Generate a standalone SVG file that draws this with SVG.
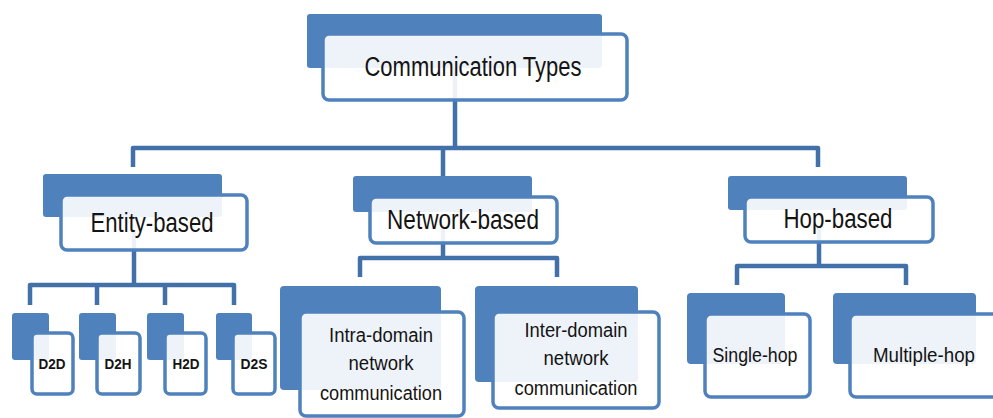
<svg xmlns="http://www.w3.org/2000/svg" width="993" height="418" viewBox="0 0 993 418">
<style>
.bg{fill:#4f81bd}
.box{fill:#ffffff;fill-opacity:0.9;stroke:#4f81bd;stroke-width:3.5}
.conn{fill:none;stroke:#4270a8;stroke-width:4.5;stroke-linejoin:round}
text{font-family:"Liberation Sans Narrow","Liberation Sans",Arial,sans-serif;fill:#141414;text-anchor:middle}
.h{font-size:27px}
.m{font-size:20px}
.s{font-size:15px;font-weight:bold}
</style>
<rect width="993" height="418" fill="#ffffff"/>
<g id="connectors">
<path class="conn" d="M455 60 V148 M133 167 V148 H818 V167 M443 148 V176"/>
<path class="conn" d="M134 230 V285 M30 305 V285 H234 V305 M97 285 V305 M165 285 V305"/>
<path class="conn" d="M443 225 V258 M360 277 V258 H557 V277"/>
<path class="conn" d="M819 225 V266 M737 285 V266 H906 V285"/>
</g>
<g id="n-root">
<rect class="bg" x="307" y="14" width="295" height="54" rx="3"/>
<rect class="box" x="323" y="34" width="304" height="66" rx="6"/>
<text class="h" x="473" y="76" textLength="217" lengthAdjust="spacingAndGlyphs">Communication Types</text>
</g>
<g id="n-entity">
<rect class="bg" x="43" y="174" width="179" height="43" rx="3"/>
<rect class="box" x="61" y="195" width="186" height="55" rx="6"/>
<text class="h" x="152" y="232" textLength="123" lengthAdjust="spacingAndGlyphs">Entity-based</text>
</g>
<g id="n-network">
<rect class="bg" x="353" y="176" width="179" height="36" rx="3"/>
<rect class="box" x="370" y="197" width="187" height="46" rx="6"/>
<text class="h" x="463" y="229" textLength="152" lengthAdjust="spacingAndGlyphs">Network-based</text>
</g>
<g id="n-hop">
<rect class="bg" x="728" y="176" width="179" height="34" rx="3"/>
<rect class="box" x="745" y="197" width="188" height="45" rx="6"/>
<text class="h" x="838" y="228" textLength="109" lengthAdjust="spacingAndGlyphs">Hop-based</text>
</g>
<g id="n-d2d">
<rect class="bg" x="12" y="313" width="37" height="47" rx="3"/>
<rect class="box" x="32" y="333" width="41" height="61" rx="5"/>
<text class="s" x="52" y="369" textLength="27" lengthAdjust="spacingAndGlyphs">D2D</text>
</g>
<g id="n-d2h">
<rect class="bg" x="79" y="313" width="37" height="47" rx="3"/>
<rect class="box" x="97" y="333" width="43" height="61" rx="5"/>
<text class="s" x="118" y="369" textLength="27" lengthAdjust="spacingAndGlyphs">D2H</text>
</g>
<g id="n-h2d">
<rect class="bg" x="147" y="313" width="37" height="47" rx="3"/>
<rect class="box" x="165" y="333" width="41" height="61" rx="5"/>
<text class="s" x="186" y="369" textLength="27" lengthAdjust="spacingAndGlyphs">H2D</text>
</g>
<g id="n-d2s">
<rect class="bg" x="216" y="313" width="36" height="47" rx="3"/>
<rect class="box" x="233" y="333" width="42" height="61" rx="5"/>
<text class="s" x="254" y="369" textLength="27" lengthAdjust="spacingAndGlyphs">D2S</text>
</g>
<g id="n-intra">
<rect class="bg" x="280" y="286" width="161" height="104" rx="4"/>
<rect class="box" x="300" y="312" width="164" height="104" rx="6"/>
<text class="m" x="381" y="342" textLength="104" lengthAdjust="spacingAndGlyphs">Intra-domain</text>
<text class="m" x="381" y="370" textLength="65" lengthAdjust="spacingAndGlyphs">network</text>
<text class="m" x="381" y="400" textLength="122" lengthAdjust="spacingAndGlyphs">communication</text>
</g>
<g id="n-inter">
<rect class="bg" x="475" y="286" width="163" height="96" rx="4"/>
<rect class="box" x="493" y="312" width="166" height="96" rx="6"/>
<text class="m" x="576" y="337" textLength="103" lengthAdjust="spacingAndGlyphs">Inter-domain</text>
<text class="m" x="576" y="365" textLength="65" lengthAdjust="spacingAndGlyphs">network</text>
<text class="m" x="576" y="395" textLength="123" lengthAdjust="spacingAndGlyphs">communication</text>
</g>
<g id="n-single">
<rect class="bg" x="687" y="293" width="98" height="71" rx="4"/>
<rect class="box" x="705" y="314" width="105" height="83" rx="6"/>
<text class="m" x="755" y="362" textLength="85" lengthAdjust="spacingAndGlyphs">Single-hop</text>
</g>
<g id="n-multiple">
<rect class="bg" x="833" y="293" width="143" height="71" rx="4"/>
<rect class="box" x="850" y="314" width="150" height="83" rx="6"/>
<text class="m" x="924" y="362" textLength="102" lengthAdjust="spacingAndGlyphs">Multiple-hop</text>
</g>
</svg>
